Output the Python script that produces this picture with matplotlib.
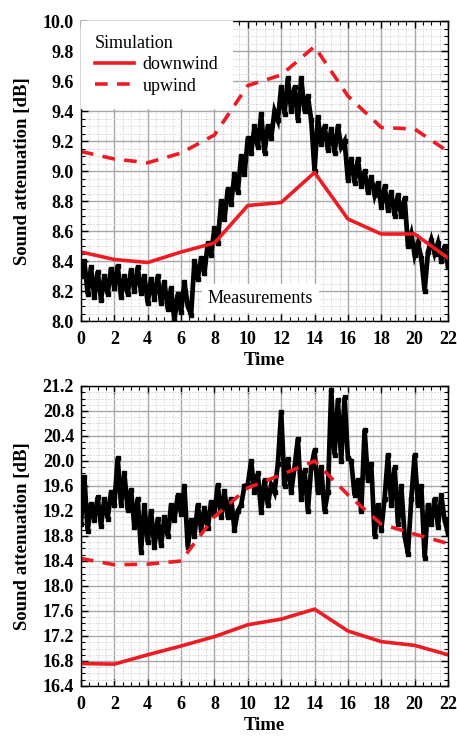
import numpy as np
import matplotlib
matplotlib.use("Agg")
import matplotlib.pyplot as plt
from matplotlib.ticker import MultipleLocator

plt.rcParams['font.family'] = ['Liberation Serif', 'DejaVu Serif']

# simulation hours
sim_t = [0, 2, 4, 6, 8, 10, 12, 14, 16, 18, 20, 22]

# top panel
down_top = [8.46, 8.41, 8.39, 8.46, 8.52, 8.77, 8.79, 8.99, 8.68, 8.58, 8.58, 8.42]
up_top = [9.13, 9.08, 9.055, 9.12, 9.24, 9.57, 9.64, 9.83, 9.50, 9.29, 9.28, 9.13]
meas_top = [8.30, 8.40, 8.18, 8.36, 8.16, 8.33, 8.14, 8.30, 8.18, 8.35,
            8.22, 8.37, 8.16, 8.30, 8.18, 8.34, 8.20, 8.36, 8.19, 8.30,
            8.12, 8.28, 8.15, 8.30, 8.12, 8.26, 8.08, 8.22, 8.00, 8.18,
            8.06, 8.26, 8.10, 8.04, 8.40, 8.28, 8.42, 8.32, 8.52, 8.44,
            8.62, 8.52, 8.80, 8.68, 8.88, 8.78, 8.98, 8.86, 9.10, 8.98,
            9.22, 9.12, 9.30, 9.16, 9.38, 9.12, 9.30, 9.22, 9.40, 9.34,
            9.56, 9.38, 9.62, 9.40, 9.56, 9.34, 9.62, 9.40, 9.50, 9.34,
            9.00, 9.36, 9.18, 9.30, 9.14, 9.28, 9.12, 9.30, 9.16, 9.20,
            8.94, 9.08, 8.92, 9.08, 8.90, 9.00, 8.86, 8.96, 8.84, 8.92,
            8.76, 8.90, 8.74, 8.86, 8.70, 8.84, 8.70, 8.82, 8.50, 8.58,
            8.44, 8.52, 8.42, 8.20, 8.46, 8.54, 8.45, 8.52, 8.40, 8.50,
            8.36]

# bottom panel
down_bot = [16.76, 16.75, 16.90, 17.04, 17.19, 17.38, 17.47, 17.63, 17.28, 17.11, 17.05, 16.90]
up_bot = [18.44, 18.34, 18.35, 18.40, 19.11, 19.57, 19.78, 20.00, 19.46, 18.99, 18.83, 18.68]
meas_bot = [19.00, 19.75, 18.88, 19.32, 19.06, 19.42, 18.96, 19.40, 19.08, 19.50,
            19.30, 20.05, 19.30, 19.80, 19.22, 19.54, 18.95, 19.40, 18.55, 19.30,
            18.70, 19.20, 18.62, 19.08, 18.66, 19.10, 18.80, 19.30, 19.06, 19.45,
            19.16, 19.60, 18.62, 19.05, 18.80, 19.30, 18.90, 19.25, 18.92, 19.35,
            19.16, 19.62, 19.10, 19.52, 19.10, 19.40, 18.90, 19.20, 19.30, 19.60,
            19.62, 20.00, 19.50, 19.80, 19.18, 19.70, 19.30, 19.62, 19.50, 19.95,
            20.79, 19.60, 20.03, 19.50, 19.90, 20.36, 19.40, 19.85, 19.20, 19.90,
            20.17, 19.50, 19.90, 19.20, 19.50, 21.14, 20.10, 20.98, 20.00, 21.02,
            20.05, 20.00, 19.45, 19.70, 19.20, 20.50, 19.70, 19.95, 18.80, 19.30,
            18.90, 19.40, 20.10, 19.30, 19.90, 19.00, 19.60, 18.80, 18.52, 19.40,
            20.10, 19.30, 19.60, 18.45, 19.30, 19.00, 19.40, 18.95, 19.45, 19.05,
            18.85]

red = '#ed1c24'
W, H = 457, 737
fig = plt.figure(figsize=(W / 100, H / 100), dpi=100)
ax1 = fig.add_axes([81 / W, 1 - 321 / H, 367 / W, 300 / H])
ax2 = fig.add_axes([81 / W, 1 - 686 / H, 367 / W, 300 / H])


def style(ax, ylo, yhi, ymaj, ymin):
    ax.set_xlim(0, 22)
    ax.set_ylim(ylo, yhi)
    ax.xaxis.set_major_locator(MultipleLocator(2))
    ax.xaxis.set_minor_locator(MultipleLocator(0.5))
    ax.yaxis.set_major_locator(MultipleLocator(ymaj))
    ax.yaxis.set_minor_locator(MultipleLocator(ymin))
    ax.set_axisbelow(True)
    ax.grid(which='major', color='#a8a8a8', lw=1.0)
    ax.grid(which='minor', color='#d4d4d4', lw=0.7, ls=(0, (1.5, 1.5)))
    ax.tick_params(which='both', direction='in', top=True, right=True)
    ax.tick_params(which='major', length=5, width=1)
    ax.tick_params(which='minor', length=3, width=0.8)
    ax.tick_params(axis='x', pad=7)
    ax.tick_params(axis='y', pad=5)
    for lab in ax.get_xticklabels() + ax.get_yticklabels():
        lab.set_fontsize(13)
        lab.set_fontweight('bold')
    for sp in ax.spines.values():
        sp.set_linewidth(1)
    ax.set_xlabel('Time', fontsize=13.5, fontweight='bold', labelpad=3)
    ax.set_ylabel('Sound attenuation [dB]', fontsize=13.5, fontweight='bold')
    ax.yaxis.set_label_coords(-0.135, 0.5)


for ax, meas, down, up, lims in [
        (ax1, meas_top, down_top, up_top, (8.0, 10.0, 0.2, 0.05)),
        (ax2, meas_bot, down_bot, up_bot, (16.4, 21.2, 0.4, 0.1))]:
    t = np.linspace(0, 22, len(meas))
    ax.plot(t, meas, color='black', lw=3.4, solid_joinstyle='miter',
            marker='s', ms=3.2, mec='black', mfc='black')
    ax.plot(sim_t, down, color=red, lw=2.6, label='downwind')
    ax.plot(sim_t, up, color=red, lw=2.6, ls=(0, (3.5, 2.6)), label='upwind')
    style(ax, *lims)
    ax.yaxis.set_major_formatter(plt.FormatStrFormatter('%.1f'))
    for lab in ax.get_yticklabels():
        lab.set_fontweight('bold')

leg = ax1.legend(loc='upper left', bbox_to_anchor=(0, 1), borderaxespad=0,
                 title='Simulation', fontsize=13, title_fontsize=13,
                 frameon=True, fancybox=False, framealpha=1, edgecolor='white',
                 handlelength=2.2, handletextpad=0.45, labelspacing=0.25,
                 borderpad=0.75, alignment='left')

ax1.text(10.75, 8.15, 'Measurements', fontsize=13, ha='center', va='center',
         bbox=dict(facecolor='white', edgecolor='none', pad=4))

fig.savefig('out.png', dpi=100)
